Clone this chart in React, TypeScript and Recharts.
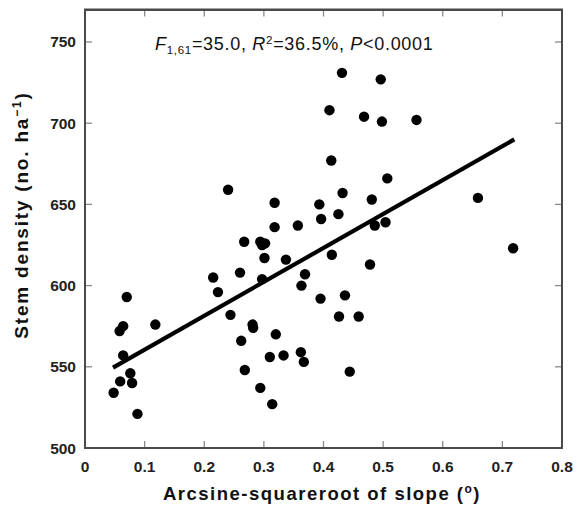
import React from 'react';
import {
  ScatterChart,
  Scatter,
  XAxis,
  YAxis,
  Customized,
} from 'recharts';

// slope (arcsine-sqrt) of each plot
const slopeX = [
  0.070, 0.064, 0.058, 0.118, 0.064, 0.076, 0.059, 0.079, 0.048, 0.088,
  0.215, 0.260, 0.223, 0.301, 0.297, 0.244, 0.281, 0.282, 0.262, 0.320,
  0.310, 0.268, 0.294, 0.314, 0.240, 0.318, 0.393, 0.432, 0.507, 0.481,
  0.425, 0.396, 0.318, 0.357, 0.486, 0.504, 0.267, 0.294, 0.302, 0.297,
  0.337, 0.414, 0.478, 0.369, 0.363, 0.395, 0.436, 0.426, 0.459, 0.333,
  0.362, 0.367, 0.444, 0.496, 0.468, 0.498, 0.556, 0.659, 0.718, 0.431,
  0.410, 0.413,
];

// stem density (no. ha-1)
const stemDensity = [
  593, 575, 572, 576, 557, 546, 541, 540, 534, 521,
  605, 608, 596, 617, 604, 582, 576, 574, 566, 570,
  556, 548, 537, 527, 659, 651, 650, 657, 666, 653,
  644, 641, 636, 637, 637, 639, 627, 627, 626, 625,
  616, 619, 613, 607, 600, 592, 594, 581, 581, 557,
  559, 553, 547, 727, 704, 701, 702, 654, 623, 731,
  708, 677,
];

// fitted regression line, end points
const fitX = [0.047, 0.72];
const fitY = [549.5, 690];

const xTicks = [0, 0.1, 0.2, 0.3, 0.4, 0.5, 0.6, 0.7, 0.8];
const yTicks = [500, 550, 600, 650, 700, 750];
const xDomain = [0, 0.8];
const yDomain = [500, 770];

const points = slopeX.map((x, i) => ({ x, y: stemDensity[i] }));
const fitLine = fitX.map((x, i) => ({ x, y: fitY[i] }));

const W = 576;
const H = 514;
const M = { top: 9.5, right: 14, bottom: 0, left: 0 };
const Y_AXIS_W = 85;
const X_AXIS_H = 66;
const PLOT_X = M.left + Y_AXIS_W;
const PLOT_Y = M.top;
const PLOT_W = W - M.left - M.right - Y_AXIS_W;
const PLOT_H = H - M.top - M.bottom - X_AXIS_H;

const FONT = '"Liberation Sans", Arial, sans-serif';
const FRAME = '#4a4a4a';
const TICK = '#8a8a8a';
const TICK_LEN = 7;

const BottomTick = (props: any) => {
  const { x, y, payload } = props;
  return (
    <text x={x} y={y + 24} textAnchor="middle" fontSize={15.5} fontWeight="bold" fontFamily={FONT} fill="#222">
      {String(payload.value)}
    </text>
  );
};

const LeftTick = (props: any) => {
  const { x, y, payload } = props;
  return (
    <text x={x - 9} y={y + 5.5} textAnchor="end" fontSize={15.5} fontWeight="bold" fontFamily={FONT} fill="#222">
      {String(payload.value)}
    </text>
  );
};

const Dot = (props: any) => <circle cx={props.cx} cy={props.cy} r={5.2} fill="#000" />;
const NoDot = () => <g />;

// inward ticks on all four sides, plus the texts
const Overlay = () => {
  const px = (v: number) => PLOT_X + ((v - xDomain[0]) / (xDomain[1] - xDomain[0])) * PLOT_W;
  const py = (v: number) => PLOT_Y + ((yDomain[1] - v) / (yDomain[1] - yDomain[0])) * PLOT_H;
  const bottom = PLOT_Y + PLOT_H;
  const right = PLOT_X + PLOT_W;
  const tickStyle = { stroke: TICK, strokeWidth: 1.3 };
  return (
    <g fontFamily={FONT} fill="#111">
      {xTicks.map((v) => (
        <g key={`x${v}`}>
          <line x1={px(v)} y1={bottom} x2={px(v)} y2={bottom - TICK_LEN} style={tickStyle} />
          <line x1={px(v)} y1={PLOT_Y} x2={px(v)} y2={PLOT_Y + TICK_LEN} style={tickStyle} />
        </g>
      ))}
      {yTicks.map((v) => (
        <g key={`y${v}`}>
          <line x1={PLOT_X} y1={py(v)} x2={PLOT_X + TICK_LEN} y2={py(v)} style={tickStyle} />
          <line x1={right} y1={py(v)} x2={right - TICK_LEN} y2={py(v)} style={tickStyle} />
        </g>
      ))}
      <rect
        x={PLOT_X}
        y={PLOT_Y}
        width={PLOT_W}
        height={PLOT_H}
        style={{ fill: 'none', stroke: FRAME, strokeWidth: 2 }}
      />
      <text x={155} y={50} fontSize={18} letterSpacing={0.7}>
        <tspan fontStyle="italic">F</tspan>
        <tspan fontSize={11.5} dy={4}>1,61</tspan>
        <tspan dy={-4}>=35.0, </tspan>
        <tspan fontStyle="italic">R</tspan>
        <tspan fontSize={11.5} dy={-6}>2</tspan>
        <tspan dy={6}>=36.5%, </tspan>
        <tspan fontStyle="italic">P</tspan>
        <tspan>{'<0.0001'}</tspan>
      </text>
      <text x={322} y={500} textAnchor="middle" fontSize={18.5} letterSpacing={1.5} fontWeight="bold">
        Arcsine-squareroot of slope (<tspan fontSize={12} dy={-7}>o</tspan><tspan dy={7}>)</tspan>
      </text>
      <text x={27.5} y={215} textAnchor="middle" fontSize={19} letterSpacing={1.8} fontWeight="bold" transform="rotate(-90 27.5 215)">
        Stem density (no. ha<tspan fontSize={12} dy={-7}>−1</tspan><tspan dy={7}>)</tspan>
      </text>
    </g>
  );
};

export default function App() {
  return (
    <div style={{ position: 'absolute', left: 0, top: 0, width: W, height: H, background: '#fff' }}>
      <ScatterChart width={W} height={H} margin={M}>
        <XAxis
          dataKey="x"
          type="number"
          domain={xDomain}
          ticks={xTicks}
          allowDataOverflow
          height={X_AXIS_H}
          axisLine={{ stroke: FRAME, strokeWidth: 2 }}
          tickLine={false}
          tickSize={0}
          tickMargin={0}
          tick={<BottomTick />}
        />
        <YAxis
          dataKey="y"
          type="number"
          domain={yDomain}
          ticks={yTicks}
          allowDataOverflow
          width={Y_AXIS_W}
          axisLine={{ stroke: FRAME, strokeWidth: 2 }}
          tickLine={false}
          tickSize={0}
          tickMargin={0}
          tick={<LeftTick />}
        />
        <Scatter data={points} shape={<Dot />} isAnimationActive={false} />
        <Scatter
          data={fitLine}
          line={{ stroke: '#000', strokeWidth: 4.2 }}
          shape={<NoDot />}
          isAnimationActive={false}
        />
        <Customized component={Overlay} />
      </ScatterChart>
      {/* box outline of the plot area, kept in CSS so it always shows */}
      <div
        style={{
          position: 'absolute',
          left: PLOT_X - 1,
          top: PLOT_Y - 1,
          width: PLOT_W + 2,
          height: PLOT_H + 2,
          border: `2px solid ${FRAME}`,
          boxSizing: 'border-box',
          pointerEvents: 'none',
        }}
      />
    </div>
  );
}
